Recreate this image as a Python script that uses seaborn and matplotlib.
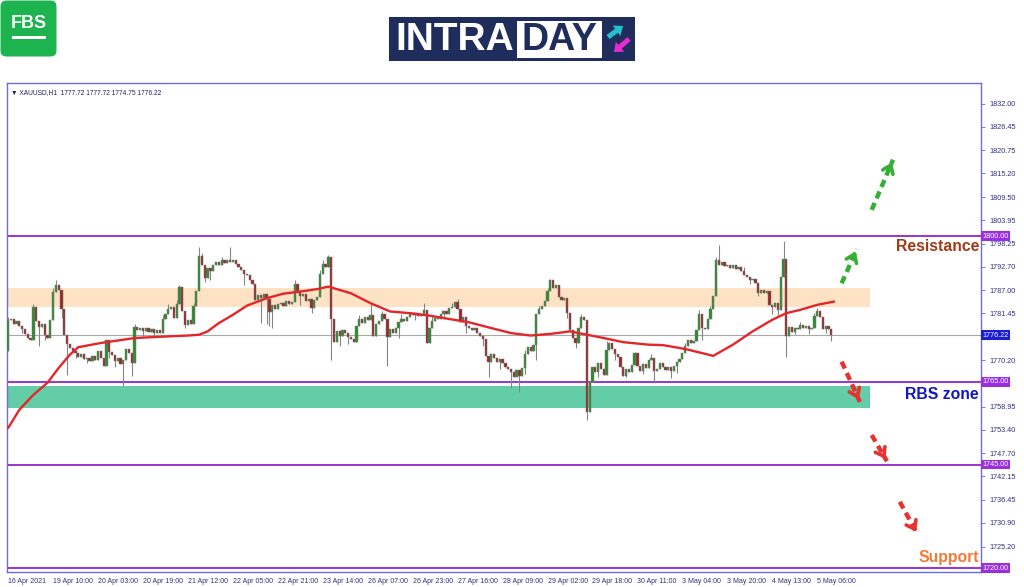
import numpy as np
import pandas as pd
import seaborn as sns
import matplotlib.pyplot as plt
from matplotlib.patches import Rectangle, FancyBboxPatch, FancyArrow

sns.set_style("white")
plt.rcParams['font.family'] = ['Liberation Sans', 'DejaVu Sans']

# XAUUSD H1 closes (open = previous close)
first_open = 1772.3
closes = [
    1779.8, 1780.2, 1779.0, 1779.6, 1778.4, 1777.6, 1776.4, 1775.4, 1775.0, 1783.0,
    1779.6, 1778.2, 1779.0, 1776.2, 1775.6, 1779.8, 1786.6, 1788.4, 1787.2, 1782.4,
    1776.2, 1774.0, 1773.2, 1772.4, 1772.0, 1771.0, 1771.6, 1770.4, 1770.8, 1770.0,
    1771.2, 1770.2, 1772.4, 1770.6, 1768.8, 1775.0, 1772.2, 1771.4, 1770.0, 1770.8,
    1769.2, 1770.2, 1772.8, 1771.8, 1769.4, 1778.2, 1777.4, 1778.0, 1777.2, 1777.8,
    1777.0, 1777.6, 1776.8, 1777.4, 1776.6, 1780.2, 1781.4, 1782.6, 1783.0, 1780.4,
    1783.6, 1787.8, 1782.0, 1778.6, 1779.8, 1779.0, 1783.2, 1786.8, 1795.4, 1793.0,
    1790.0, 1792.4, 1791.6, 1793.0, 1793.8, 1793.2, 1794.2, 1793.6, 1794.4, 1793.8,
    1794.2, 1793.4, 1792.6, 1791.8, 1791.0, 1790.6, 1789.4, 1788.6, 1784.6, 1785.8,
    1785.2, 1786.0, 1784.8, 1781.8, 1783.4, 1782.6, 1783.8, 1784.0, 1783.2, 1784.4,
    1783.6, 1784.2, 1788.6, 1786.8, 1785.6, 1786.2, 1784.4, 1785.0, 1782.8, 1784.6,
    1785.4, 1791.0, 1793.4, 1792.6, 1795.0, 1780.0, 1774.6, 1777.2, 1776.0, 1777.4,
    1776.6, 1775.8, 1775.2, 1774.6, 1778.4, 1780.0, 1779.2, 1780.6, 1779.8, 1781.0,
    1776.0, 1778.8, 1779.6, 1781.4, 1780.2, 1775.8, 1777.6, 1776.6, 1777.8, 1779.4,
    1780.2, 1779.6, 1780.6, 1781.4, 1781.0, 1781.6, 1780.8, 1781.2, 1782.2, 1774.4,
    1777.8, 1779.6, 1780.4, 1780.0, 1781.2, 1782.0, 1781.4, 1782.8, 1783.0, 1784.2,
    1782.4, 1779.4, 1780.6, 1778.4, 1778.0, 1777.4, 1778.0, 1776.6, 1776.0, 1775.2,
    1771.2, 1769.6, 1771.6, 1770.8, 1769.8, 1770.4, 1769.4, 1768.6, 1768.0, 1767.4,
    1766.2, 1767.8, 1766.4, 1768.2, 1771.6, 1773.4, 1772.4, 1773.8, 1781.4, 1782.4,
    1783.2, 1784.4, 1786.8, 1789.4, 1787.6, 1788.2, 1785.4, 1784.6, 1785.2, 1781.6,
    1777.4, 1775.6, 1774.4, 1777.8, 1780.6, 1779.8, 1757.6, 1764.8, 1768.6, 1767.2,
    1769.4, 1768.0, 1766.6, 1772.6, 1774.2, 1772.8, 1771.6, 1771.0, 1768.4, 1766.4,
    1768.0, 1767.2, 1769.0, 1771.8, 1768.8, 1767.6, 1769.2, 1768.2, 1770.2, 1770.8,
    1767.6, 1768.0, 1769.4, 1768.6, 1767.8, 1768.4, 1767.6, 1768.8, 1769.8, 1770.4,
    1771.8, 1773.6, 1775.0, 1774.2, 1774.8, 1777.4, 1781.4, 1778.0, 1777.6, 1780.0,
    1782.4, 1785.6, 1794.2, 1793.0, 1793.8, 1792.8, 1793.2, 1792.4, 1793.0, 1792.2,
    1792.6, 1791.6, 1790.6, 1790.2, 1789.4, 1789.8, 1788.8, 1786.4, 1787.2, 1786.4,
    1786.8, 1783.4, 1783.0, 1784.0, 1782.2, 1790.2, 1794.6, 1776.0, 1778.2, 1777.0,
    1778.0, 1777.6, 1778.6, 1777.8, 1778.4, 1777.6, 1778.0, 1780.8, 1782.0, 1780.6,
    1777.6, 1778.4, 1777.72, 1776.22,
]
# wick extremes that stick out of the bodies (bar index -> price)
wick_highs = {0: 1780.6, 9: 1783.6, 16: 1787.6, 17: 1789.6, 45: 1779.0, 55: 1781.0,
              57: 1783.6, 60: 1784.6, 61: 1788.4, 66: 1784.0, 68: 1797.4, 69: 1796.0,
              76: 1795.0, 79: 1797.4, 88: 1788.0, 102: 1789.4, 111: 1792.0, 112: 1794.4,
              114: 1795.6, 125: 1781.0, 129: 1783.6, 133: 1782.0, 140: 1781.2, 148: 1783.9,
              151: 1780.8, 158: 1784.0, 160: 1785.0, 184: 1772.6, 189: 1783.2, 192: 1787.6,
              193: 1789.8, 204: 1781.4, 213: 1774.8, 223: 1772.2, 229: 1771.6, 241: 1774.2,
              246: 1782.2, 250: 1783.2, 252: 1795.0, 253: 1798.0, 262: 1792.6, 276: 1799.0,
              282: 1779.4, 287: 1781.6, 288: 1782.8, 293: 1777.72}
wick_lows = {5: 1776.8, 11: 1773.6, 13: 1775.0, 19: 1780.4, 21: 1766.7, 24: 1770.6,
             28: 1769.4, 36: 1770.6, 38: 1768.6, 41: 1764.0, 44: 1766.3, 48: 1776.0,
             52: 1775.8, 63: 1778.0, 70: 1789.0, 72: 1789.6, 84: 1788.2, 90: 1779.1,
             92: 1779.0, 93: 1778.3, 94: 1778.0, 104: 1783.4, 108: 1781.6, 115: 1770.3,
             118: 1773.6, 121: 1774.0, 135: 1768.7, 139: 1775.6, 145: 1779.8, 155: 1780.2,
             163: 1776.6, 169: 1773.6, 171: 1766.2, 175: 1768.0, 179: 1763.5, 182: 1762.6,
             184: 1766.8, 188: 1770.3, 199: 1780.4, 202: 1773.0, 206: 1755.8, 210: 1766.2,
             216: 1770.2, 220: 1766.0, 226: 1766.8, 230: 1764.8, 236: 1765.8, 238: 1767.0,
             247: 1775.0, 264: 1788.6, 267: 1785.6, 272: 1781.4, 274: 1781.0, 277: 1770.9,
             280: 1776.4, 285: 1776.4, 291: 1776.6, 293: 1774.75}

# moving average line, sampled from the chart
ma_bars = [0, 4, 9, 14, 18, 22, 25, 33, 45, 57, 64, 68, 71, 75, 80, 85, 92, 98, 104, 110,
           114, 122, 129, 136, 143, 150, 157, 164, 172, 179, 186, 193, 200, 206, 212,
           219, 228, 233, 239, 242, 251, 258, 265, 272, 277, 282, 288, 294]
ma_vals = [1753.8, 1758.2, 1761.8, 1764.7, 1768.3, 1771.5, 1773.3, 1774.3, 1775.5, 1775.9,
           1776.1, 1776.3, 1777.1, 1779.1, 1781.1, 1783.3, 1785.1, 1786.2, 1786.7, 1787.3,
           1787.9, 1786.3, 1783.9, 1781.9, 1781.5, 1780.9, 1780.1, 1779.3, 1777.9, 1776.7,
           1776.1, 1776.5, 1777.1, 1776.3, 1775.5, 1774.5, 1773.9, 1773.8, 1773.1, 1772.7,
           1771.2, 1773.9, 1777.1, 1779.9, 1781.5, 1782.3, 1783.5, 1784.3]

x_labels = ["16 Apr 2021", "19 Apr 10:00", "20 Apr 03:00", "20 Apr 19:00", "21 Apr 12:00",
            "22 Apr 05:00", "22 Apr 21:00", "23 Apr 14:00", "26 Apr 07:00", "26 Apr 23:00",
            "27 Apr 16:00", "28 Apr 09:00", "29 Apr 02:00", "29 Apr 18:00", "30 Apr 11:00",
            "3 May 04:00", "3 May 20:00", "4 May 13:00", "5 May 06:00"]
y_ticks = [1832.00, 1826.45, 1820.75, 1815.20, 1809.50, 1803.95, 1798.25, 1792.70,
           1787.00, 1781.45, 1770.20, 1758.95, 1753.40, 1747.70, 1742.15, 1736.45,
           1730.90, 1725.20]
levels = [1800.00, 1765.00, 1745.00, 1720.00]
last_price = 1776.22
resistance_zone = (1783.0, 1787.6)
rbs_zone = (1758.6, 1763.9)
zone_end = 306.8
up_arrows = [((307.4, 1806.4), (315.0, 1818.5)), ((296.7, 1788.7), (302.1, 1797.0))]
down_arrows = [((296.7, 1769.8), (303.2, 1760.1)), ((307.4, 1752.1), (312.8, 1745.8)),
               ((317.4, 1736.0), (323.7, 1728.2))]

frame_c = '#6b6be0'
tick_c = '#2e2e80'
level_c = '#9933cc'

fig = plt.figure(figsize=(10.24, 5.87), dpi=100)
ax = fig.add_axes([7 / 1024, 15.5 / 587, 974 / 1024, 488.5 / 587])

# zones and levels
ax.fill_between([-0.4, zone_end], resistance_zone[0], resistance_zone[1], color='#fde2c4', lw=0, zorder=1)
ax.fill_between([-0.4, zone_end], rbs_zone[0], rbs_zone[1], color='#62cda6', lw=0, zorder=1)
ax.axhline(last_price, color='#a8a8a8', lw=0.8, zorder=2)
for lv in levels:
    ax.axhline(lv, color=level_c, lw=1.4, zorder=2)

# candles
opens = [first_open] + closes[:-1]
df = pd.DataFrame({'bar': np.arange(len(closes)), 'open': opens, 'close': closes})
df['high'] = df[['open', 'close']].max(axis=1)
df['low'] = df[['open', 'close']].min(axis=1)
for i, v in wick_highs.items():
    df.loc[i, 'high'] = max(v, df.loc[i, 'high'])
for i, v in wick_lows.items():
    df.loc[i, 'low'] = min(v, df.loc[i, 'low'])
up = df['close'] >= df['open']
ax.vlines(df['bar'], df['low'], df['high'], color='#858585', lw=0.8, zorder=3)
ax.bar(df['bar'][up], (df['close'] - df['open'])[up].clip(lower=0.25), bottom=df['open'][up],
       width=0.8, color='#2f8a2f', edgecolor='#7d7d7d', lw=0.35, zorder=4)
ax.bar(df['bar'][~up], (df['open'] - df['close'])[~up].clip(lower=0.25), bottom=df['close'][~up],
       width=0.8, color='#96282a', edgecolor='#7d7d7d', lw=0.35, zorder=4)

# moving average
ma = pd.DataFrame({'bar': ma_bars, 'ma': ma_vals})
sns.lineplot(data=ma, x='bar', y='ma', color='#e4262b', lw=1.7, ax=ax, legend=False, zorder=5)

# dashed arrows
def dashed_arrow(start, end, color):
    ax.plot([start[0], end[0]], [start[1], end[1]], color=color, lw=3.2,
            linestyle=(0, (1.7, 1.1)), solid_capstyle='butt', zorder=6)
    ax.annotate('', xy=end, xytext=(end[0] - (end[0] - start[0]) * 0.25, end[1] - (end[1] - start[1]) * 0.25),
                arrowprops=dict(arrowstyle='->,head_length=0.55,head_width=0.4', color=color, lw=2.6),
                zorder=6)

for s, e in up_arrows:
    dashed_arrow(s, e, '#35b035')
for s, e in down_arrows:
    dashed_arrow(s, e, '#e8322f')

# labels on chart
yt = ax.get_yaxis_transform()
ax.text(0.998, 1797.6, 'Resistance', transform=yt, ha='right', va='center',
        fontsize=11.3, fontweight='bold', color='#a23a18', zorder=7)
ax.text(0.998, 1762.0, 'RBS zone', transform=yt, ha='right', va='center',
        fontsize=11.3, fontweight='bold', color='#1414c8', zorder=7)
ax.text(0.998, 1722.5, 'Support', transform=yt, ha='right', va='center',
        fontsize=11.3, fontweight='bold', color='#f27b36', zorder=7)
ax.text(0.004, 0.988, '\u25BC XAUUSD,H1  1777.72 1777.72 1774.75 1776.22', transform=ax.transAxes,
        ha='left', va='top', fontsize=4.8, color='#1d1d6b')

# axes styling
ax.set_xlim(-0.4, 346.3)
ax.set_ylim(1719.2, 1837.0)
ax.set_xlabel('')
ax.set_ylabel('')
for sp in ax.spines.values():
    sp.set_color(frame_c)
    sp.set_linewidth(1.0)
ax.yaxis.tick_right()
ax.set_yticks(y_ticks)
ax.set_yticklabels([f'{v:.2f}' for v in y_ticks])
ax.set_xticks([16 * k for k in range(len(x_labels))])
ax.set_xticklabels(x_labels)
for lab in ax.get_xticklabels():
    lab.set_horizontalalignment('left')
ax.tick_params(axis='y', direction='out', length=3, width=0.6, color=frame_c,
               labelsize=5.2, labelcolor=tick_c, pad=3)
ax.tick_params(axis='x', direction='out', length=3, width=0.6, color=frame_c,
               labelsize=5.0, labelcolor=tick_c, pad=1.5)

for lv in levels:
    ax.text(1.0015, lv, f'{lv:.2f}', transform=yt, ha='left', va='center', fontsize=5.2,
            color='white', bbox=dict(boxstyle='square,pad=0.2', fc='#9b2fe0', ec='none'),
            clip_on=False, zorder=8)
ax.text(1.0015, last_price, f'{last_price:.2f}', transform=yt, ha='left', va='center', fontsize=5.2,
        color='white', bbox=dict(boxstyle='square,pad=0.2', fc='#1c1cd6', ec='none'),
        clip_on=False, zorder=8)

# FBS logo
lx = fig.add_axes([0, 1 - 57 / 587, 57 / 1024, 57 / 587])
lx.set_xlim(0, 57)
lx.set_ylim(57, 0)
lx.axis('off')
lx.add_patch(FancyBboxPatch((0.5, 0.5), 56, 56, boxstyle='round,pad=0,rounding_size=6',
                            fc='#1db34f', ec='none'))
lx.text(29, 24, 'FBS', ha='center', va='center', fontsize=13, fontweight='bold', color='white')
lx.add_patch(Rectangle((12, 36), 34, 2.6, fc='white', ec='none'))

# INTRADAY logo
ix = fig.add_axes([389 / 1024, 1 - 61 / 587, 246 / 1024, 44 / 587])
ix.set_xlim(0, 246)
ix.set_ylim(44, 0)
ix.axis('off')
ix.add_patch(Rectangle((0, 0), 246, 44, fc='#1e2d5c', ec='none'))
ix.add_patch(Rectangle((128, 3.5), 85, 37, fc='white', ec='none'))
ix.text(66, 23, 'INTRA', ha='center', va='center', fontsize=28, fontweight='bold', color='white')
ix.text(170.5, 23, 'DAY', ha='center', va='center', fontsize=27, fontweight='bold', color='#1e2d5c')
ix.add_patch(FancyArrow(219, 20, 15, -11, width=5, head_width=13, head_length=8,
                        length_includes_head=True, fc='#22c1cc', ec='none'))
ix.add_patch(FancyArrow(240, 22, -15, 13, width=5, head_width=13, head_length=8,
                        length_includes_head=True, fc='#e62bd0', ec='none'))

fig.savefig('out.png', dpi=100)
